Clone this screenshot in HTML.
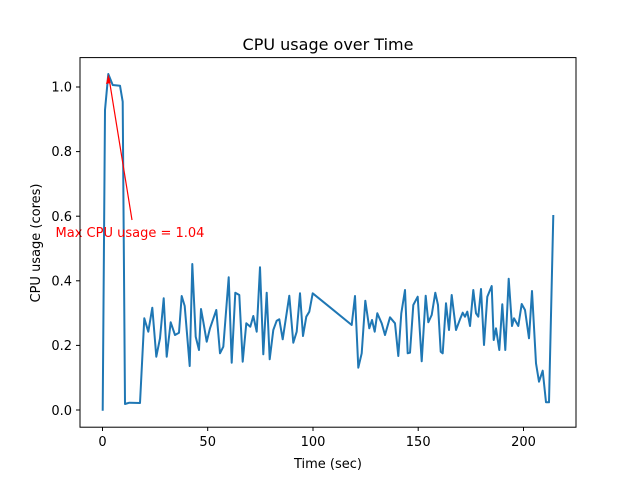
<!DOCTYPE html>
<html><head><meta charset="utf-8"><style>body{margin:0;background:#fff}svg{display:block}text{font-family:"DejaVu Sans","Liberation Sans",sans-serif}</style></head><body>
<svg width="640" height="480" xmlns="http://www.w3.org/2000/svg">
<rect width="640" height="480" fill="#fff"/>
<text x="328" y="50" font-size="16" text-anchor="middle">CPU usage over Time</text>
<polyline fill="none" stroke="#1f77b4" stroke-width="2" stroke-linejoin="round" points="102.7,410.7 105,110 108.3,74 112.7,85 120,85.7 122.7,101.7 125,404 129.3,402.7 140,403 144.3,318.3 148.3,331.7 152.3,307.7 156.3,356.7 160,338.3 163.7,298.3 166.7,356.7 170.7,322.3 175,335 179,332.7 181.7,296 184.7,306 189.7,366 192.3,264 195.7,336.7 199,350 201,309 203.3,321.7 206.7,341.7 210,328.3 216.3,310 220,353.3 223.3,346.7 228.7,277.3 231.7,362.7 235.3,292.7 239.3,295 242.7,361.7 246.3,323.3 250.3,326.7 253.3,316 256.7,331.7 260,267.3 263.3,354.3 266.7,292.7 269.7,359.3 273.3,330 276.7,320.7 279.3,319.3 282.7,339.3 289.3,295.7 293.3,342.7 296.7,331.7 300,293.3 303,336 306.3,316.7 309.3,311.7 312.7,293.3 330,307.3 351.7,325 355,296 358.3,367.7 361.7,353.3 365.3,300.7 369.3,328.3 372,320 374.7,331.7 377.3,313.3 381.7,323.3 385,335 390,317.3 395,323.3 398.3,356 401.3,313.3 405,290 407.7,353.3 410,352.7 413.3,305 417.7,296.7 421.7,361.3 425.7,295.7 428.3,322.3 431.7,315 435.3,292.7 438,305 440.7,351.7 442.7,353.3 446,303.3 449,330 451.7,295 456,330 460,319.3 462.7,312.7 465,316.7 467.3,311.7 470,326 473.3,290 476,313.3 478.3,316.7 481,289 484,345 487.3,296.7 491.7,286 493.7,340 496,328.3 499.3,350 502.3,304.3 505.3,350 508.7,278.7 512,326 514,318.3 518.3,326 521.7,304 525,310 529,338.3 532,291 536,363.3 539,381.7 542.7,370.7 546,402.3 549,402.3 553.3,215"/>
<line x1="132" y1="220" x2="109" y2="78" stroke="red" stroke-width="1.2"/>
<polygon points="108.3,74 106,84 110.5,83" fill="red"/>
<text x="130" y="237" font-size="13" fill="red" text-anchor="middle">Max CPU usage = 1.04</text>
<rect x="80" y="57.6" width="496" height="369.6" fill="none" stroke="#000" stroke-width="1"/>
<g stroke="#000">
<line x1="102.5" y1="427" x2="102.5" y2="431"/><line x1="207.7" y1="427" x2="207.7" y2="431"/><line x1="313" y1="427" x2="313" y2="431"/><line x1="418.2" y1="427" x2="418.2" y2="431"/><line x1="523.5" y1="427" x2="523.5" y2="431"/>
<line x1="76" y1="410" x2="80" y2="410"/><line x1="76" y1="345.4" x2="80" y2="345.4"/><line x1="76" y1="280.8" x2="80" y2="280.8"/><line x1="76" y1="216.2" x2="80" y2="216.2"/><line x1="76" y1="151.6" x2="80" y2="151.6"/><line x1="76" y1="87" x2="80" y2="87"/>
</g>
<g font-size="13" text-anchor="middle">
<text x="102.5" y="446">0</text><text x="207.7" y="446">50</text><text x="313" y="446">100</text><text x="418.2" y="446">150</text><text x="523.5" y="446">200</text>
</g>
<g font-size="13" text-anchor="end">
<text x="72" y="415">0.0</text><text x="72" y="350">0.2</text><text x="72" y="285.5">0.4</text><text x="72" y="221">0.6</text><text x="72" y="156">0.8</text><text x="72" y="91.5">1.0</text>
</g>
<text x="328" y="468" font-size="13" text-anchor="middle">Time (sec)</text>
<text transform="translate(40,243) rotate(-90)" font-size="13" text-anchor="middle">CPU usage (cores)</text>
</svg>
</body></html>
